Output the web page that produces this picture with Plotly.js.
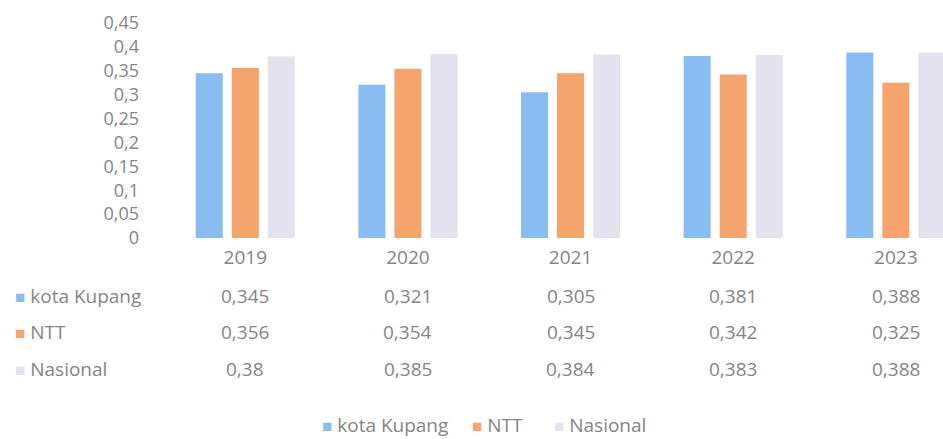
<!DOCTYPE html>
<html><head><meta charset="utf-8">
<script src="https://cdn.plot.ly/plotly-3.0.1.min.js"></script>
<style>html,body{margin:0;padding:0;background:#fff}#c{width:943px;height:439px}</style>
</head><body><div id="c"></div>
<script>
const years = ['2019','2020','2021','2022','2023'];
const kotaKupang = [0.345, 0.321, 0.305, 0.381, 0.388];
const ntt = [0.356, 0.354, 0.345, 0.342, 0.325];
const nasional = [0.38, 0.385, 0.384, 0.383, 0.388];
const seriesNames = ['kota Kupang', 'NTT', 'Nasional'];
const colors = ['#89bdf2', '#f4a46c', '#e4e2ee'];
const values = [kotaKupang, ntt, nasional];
const txt = '#858585';
const fnt = 'Open Sans, Lato, sans-serif';
const fs = 19;

const fmt = v => String(v).replace('.', ',');
const traces = values.map((v, i) => ({
  type: 'bar', x: years, y: v, name: seriesNames[i],
  marker: {color: colors[i]}, hoverinfo: 'skip', showlegend: false
}));

const sq = c => '<span style="color:' + c + ';font-size:17px">■</span>';
const rowY = [-0.271, -0.438, -0.611];
const ann = [];
values.forEach((v, r) => {
  ann.push({xref: 'paper', yref: 'paper', x: -0.194, y: rowY[r], xanchor: 'left', yanchor: 'middle',
    showarrow: false, align: 'left',
    text: sq(colors[r]) + ' ' + seriesNames[r],
    font: {family: fnt, size: fs, color: txt}});
  v.forEach((val, c) => {
    ann.push({xref: 'x', yref: 'paper', x: c, y: rowY[r], xanchor: 'center', yanchor: 'middle',
      showarrow: false, text: fmt(val), font: {family: fnt, size: fs, color: txt}});
  });
});
// legend row: one annotation per item
const legX = [320, 470, 552];
seriesNames.forEach((n, i) => {
  ann.push({xref: 'paper', yref: 'paper', x: (legX[i] - 164) / 779, y: -0.87, xanchor: 'left', yanchor: 'middle',
    showarrow: false, align: 'left', text: sq(colors[i]) + ' ' + n,
    font: {family: fnt, size: fs, color: txt}});
});

Plotly.newPlot('c', traces, {
  width: 943, height: 439,
  margin: {l: 164, r: 0, t: 23, b: 201},
  paper_bgcolor: '#fff', plot_bgcolor: '#fff',
  barmode: 'group', bargap: 0.335, bargroupgap: 0.25,
  font: {family: fnt, color: txt, size: fs},
  xaxis: {type: 'category', range: [-0.5, 4.29], showgrid: false, zeroline: false,
    showline: false, ticks: '', ticklabelstandoff: 6, tickfont: {family: fnt, size: fs, color: txt}},
  yaxis: {range: [0, 0.45], dtick: 0.05, tick0: 0, showgrid: false, zeroline: false, showline: false,
    ticks: '', ticklabelstandoff: 24,
    tickfont: {family: fnt, size: 18, color: txt}},
  separators: ',.',
  showlegend: false,
  annotations: ann
}, {displayModeBar: false, staticPlot: true});
</script></body></html>
